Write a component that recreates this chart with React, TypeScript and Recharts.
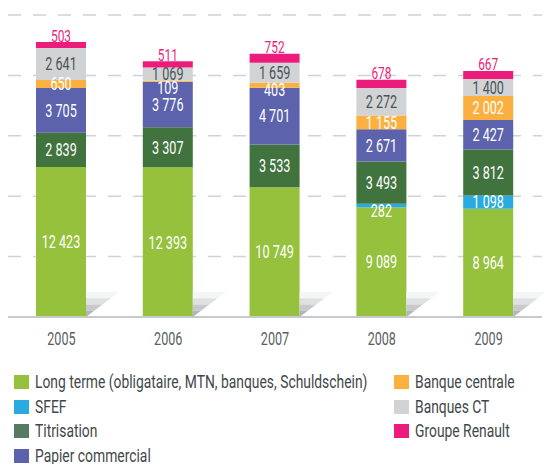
import React from 'react';
import { BarChart, Bar, XAxis, YAxis, CartesianGrid, Legend, LabelList } from 'recharts';

const years = ['2005', '2006', '2007', '2008', '2009'];
const longTerme = [12423, 12393, 10749, 9089, 8964];
const sfef = [0, 0, 0, 282, 1098];
const titrisation = [2839, 3307, 3533, 3493, 3812];
const papierCommercial = [3705, 3776, 4701, 2671, 2427];
const banqueCentrale = [650, 109, 403, 1155, 2002];
const banquesCT = [2641, 1069, 1659, 2272, 1400];
const groupeRenault = [503, 511, 752, 678, 667];
const yTicks = [0, 5000, 10000, 15000, 20000];

const seriesNames = [
  'Long terme (obligataire, MTN, banques, Schuldschein)',
  'SFEF',
  'Titrisation',
  'Papier commercial',
  'Banque centrale',
  'Banques CT',
  'Groupe Renault',
];
const seriesKeys = ['longTerme', 'sfef', 'titrisation', 'papier', 'centrale', 'banquesCT', 'renault'];
const barColors = ['#95c13d', '#29aae1', '#41733f', '#5c62ac', '#fbb040', '#d1d3d4', '#ec1c7c'];
const legendColors = ['#95c13d', '#29aae1', '#567a62', '#5c62ac', '#fbb040', '#d1d3d4', '#ec1c7c'];

const data = years.map((year, i) => ({
  year,
  longTerme: longTerme[i],
  sfef: sfef[i],
  titrisation: titrisation[i],
  papier: papierCommercial[i],
  centrale: banqueCentrale[i],
  banquesCT: banquesCT[i],
  renault: groupeRenault[i],
}));

const FONT = 'Roboto, sans-serif';
const SQUEEZE = 0.7;

const fmt = (v: number) => String(v).replace(/\B(?=(\d{3})+(?!\d))/g, ' ');

function NarrowText({ x, y, fill, size, children }: any) {
  return (
    <text
      transform={`translate(${x},${y}) scale(${SQUEEZE},1)`}
      textAnchor="middle"
      fontSize={size}
      fontFamily={FONT}
      fill={fill}
    >
      {children}
    </text>
  );
}

// grey drop shadow at the foot of a bar, built from the bar's own box
function FootShadow({ right, bottom }: { right: number; bottom: number }) {
  const bands = [
    { from: 0, to: 0.25, color: '#f4f5f5' },
    { from: 0.25, to: 0.5, color: '#dfe0e2' },
    { from: 0.5, to: 0.75, color: '#c7c9cc' },
    { from: 0.75, to: 1, color: '#b3b6b9' },
  ];
  const h = 25;
  const w = 33;
  const top = bottom - h;
  return (
    <g>
      {bands.map((b) => {
        const y0 = top + b.from * h;
        const y1 = top + b.to * h;
        const x0 = right + w * (1 - b.from);
        const x1 = right + w * (1 - b.to);
        return (
          <polygon
            key={b.from}
            points={`${right},${y0} ${x0},${y0} ${x1},${y1} ${right},${y1}`}
            fill={b.color}
          />
        );
      })}
    </g>
  );
}

const makeLabel = (kind: 'base' | 'in' | 'dark' | 'top') => (props: any) => {
  const { x, y, width, height, value } = props;
  if (!value) return null;
  const X = Number(x);
  const Y = Number(y);
  const W = Number(width);
  const h = Number(height);
  const cx = X + W / 2;
  const size = 18;
  if (kind === 'top') {
    return <NarrowText x={cx} y={Y - 0.5} fill="#ec1c7c" size={17}>{fmt(value)}</NarrowText>;
  }
  const mid = h < 6 ? Y + 7 : Y + h / 2;
  const text = (
    <NarrowText x={cx} y={mid + size * 0.355} fill={kind === 'dark' ? '#4a5358' : '#ffffff'} size={size}>
      {fmt(value)}
    </NarrowText>
  );
  if (kind === 'base') {
    return (
      <g>
        <FootShadow right={X + W} bottom={Y + h} />
        {text}
      </g>
    );
  }
  return text;
};

function YearTick({ x, y, payload }: any) {
  return <NarrowText x={x} y={y + 28} fill="#595f63" size={18}>{payload.value}</NarrowText>;
}

function LegendBox() {
  return (
    <div style={{ position: 'relative', height: 117, width: 544 }}>
      {seriesNames.map((name, i) => {
        const col = i < 4 ? 0 : 1;
        const row = i < 4 ? i : i - 4;
        const left = col === 0 ? 14 : 394;
        const top = 28 + row * 24.5;
        return (
          <div key={name} style={{ position: 'absolute', left, top, height: 14, whiteSpace: 'nowrap' }}>
            <span style={{ position: 'absolute', left: 0, top: 0, width: 15, height: 14, background: legendColors[i] }} />
            <span
              style={{
                position: 'absolute',
                left: 21,
                top: 0,
                fontFamily: FONT,
                fontSize: 18,
                lineHeight: '14px',
                color: '#3f474b',
                transform: 'scaleX(0.77)',
                transformOrigin: 'left center',
              }}
            >
              {name}
            </span>
          </div>
        );
      })}
    </div>
  );
}

export default function App() {
  return (
    <div style={{ position: 'absolute', left: 0, top: 0, width: 544, height: 464, overflow: 'hidden', background: '#fff' }}>
      <BarChart width={544} height={464} data={data} margin={{ top: 15, right: 2, left: 8, bottom: 0 }}>
        <CartesianGrid vertical={false} stroke="#cfd3d5" strokeWidth={1.5} strokeDasharray="13 12" />
        <YAxis hide domain={[0, 25000]} ticks={yTicks} />
        <XAxis
          dataKey="year"
          height={30}
          tickLine={false}
          tickSize={0}
          tickMargin={0}
          axisLine={{ stroke: '#c6cacc', strokeWidth: 2 }}
          tick={<YearTick />}
        />
        <Legend verticalAlign="bottom" content={<LegendBox />} wrapperStyle={{ left: 0, width: 544, height: 117 }} />
        {seriesKeys.map((key, i) => (
          <Bar
            key={key}
            dataKey={key}
            name={seriesNames[i]}
            stackId="a"
            fill={barColors[i]}
            barSize={50}
            isAnimationActive={false}
          >
            <LabelList
              dataKey={key}
              content={makeLabel(i === 0 ? 'base' : i === 6 ? 'top' : i === 5 ? 'dark' : 'in')}
            />
          </Bar>
        ))}
      </BarChart>
    </div>
  );
}
